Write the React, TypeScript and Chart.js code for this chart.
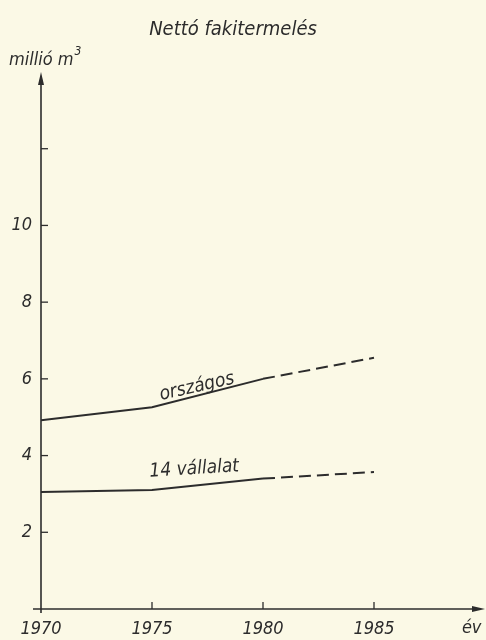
import React, { useEffect, useRef } from "react";
import { Chart, registerables } from "chart.js";

Chart.register(...registerables);

const years = [1970, 1975, 1980, 1985];
const orszagos = [4.92, 5.26, 6.0, 6.55];
const vallalat = [3.05, 3.1, 3.4, 3.57];
const xTickYears = [1970, 1975, 1980, 1985];
const yTickValues = [2, 4, 6, 8, 10, 12];
const yLabelled = [2, 4, 6, 8, 10];

const title = "Nettó fakitermelés";
const yUnit = "millió m";
const xUnit = "év";
const seriesNames = ["országos", "14 vállalat"];

const INK = "#2c2c2c";
const BG = "#fbf9e6";
const FONT = "'Liberation Sans Narrow', 'DejaVu Sans Condensed', sans-serif";

const drawPlugin = {
  id: "handDrawn",
  beforeDraw(chart: any) {
    const { ctx, width, height } = chart;
    ctx.save();
    ctx.fillStyle = BG;
    ctx.fillRect(0, 0, width, height);
    ctx.restore();
  },
  afterDraw(chart: any) {
    const { ctx, chartArea } = chart;
    const xs = chart.scales.x;
    const ys = chart.scales.y;
    const x0 = xs.getPixelForValue(1970);
    const y0 = ys.getPixelForValue(0);
    const yTop = chartArea.top;
    const xRight = chartArea.right;
    ctx.save();
    ctx.strokeStyle = INK;
    ctx.fillStyle = INK;
    ctx.lineWidth = 1.6;
    // y axis
    ctx.beginPath();
    ctx.moveTo(x0, y0 + 4);
    ctx.lineTo(x0, yTop + 6);
    ctx.stroke();
    ctx.beginPath();
    ctx.moveTo(x0, yTop);
    ctx.lineTo(x0 - 3, yTop + 13);
    ctx.lineTo(x0 + 3, yTop + 13);
    ctx.closePath();
    ctx.fill();
    // x axis
    ctx.beginPath();
    ctx.moveTo(x0 - 8, y0);
    ctx.lineTo(xRight - 6, y0);
    ctx.stroke();
    ctx.beginPath();
    ctx.moveTo(xRight, y0);
    ctx.lineTo(xRight - 13, y0 - 3);
    ctx.lineTo(xRight - 13, y0 + 3);
    ctx.closePath();
    ctx.fill();
    // tick marks
    ctx.lineWidth = 1.3;
    yTickValues.forEach((v) => {
      const py = ys.getPixelForValue(v);
      ctx.beginPath();
      ctx.moveTo(x0, py);
      ctx.lineTo(x0 + 7, py);
      ctx.stroke();
    });
    xTickYears.slice(1).forEach((v) => {
      const px = xs.getPixelForValue(v);
      ctx.beginPath();
      ctx.moveTo(px, y0);
      ctx.lineTo(px, y0 - 7);
      ctx.stroke();
    });
    // texts
    ctx.fillStyle = INK;
    ctx.textBaseline = "middle";
    ctx.font = `italic 20px ${FONT}`;
    ctx.textAlign = "center";
    ctx.fillText(title, 233, 30);
    ctx.font = `italic 18px ${FONT}`;
    ctx.textAlign = "left";
    ctx.fillText(yUnit, 9, 60);
    const w = ctx.measureText(yUnit).width;
    ctx.font = `italic 12px ${FONT}`;
    ctx.fillText("3", 9 + w + 1, 52);
    ctx.font = `italic 18px ${FONT}`;
    ctx.textAlign = "center";
    ctx.fillText(xUnit, xs.getPixelForValue(1989.4), 628);
    // series labels
    ctx.font = `italic 19px ${FONT}`;
    ctx.textBaseline = "alphabetic";
    ctx.textAlign = "left";
    ctx.save();
    ctx.translate(xs.getPixelForValue(1975.4), ys.getPixelForValue(5.45));
    ctx.rotate(-0.22);
    ctx.fillText(seriesNames[0], 0, 0);
    ctx.restore();
    ctx.save();
    ctx.translate(xs.getPixelForValue(1974.9), ys.getPixelForValue(3.45));
    ctx.rotate(-0.06);
    ctx.fillText(seriesNames[1], 0, 0);
    ctx.restore();
    ctx.restore();
  },
};

export default function App() {
  const ref = useRef<HTMLCanvasElement | null>(null);
  useEffect(() => {
    document.body.style.margin = "0";
    document.body.style.background = BG;
    const dash = (c: any) => (c.p0.parsed.x >= 1980 ? [12, 6] : undefined);
    const chart = new Chart(ref.current as HTMLCanvasElement, {
      type: "line",
      data: {
        datasets: [
          {
            label: seriesNames[0],
            data: years.map((y, i) => ({ x: y, y: orszagos[i] })),
            borderColor: INK,
            borderWidth: 2,
            pointRadius: 0,
            tension: 0,
            segment: { borderDash: dash },
          },
          {
            label: seriesNames[1],
            data: years.map((y, i) => ({ x: y, y: vallalat[i] })),
            borderColor: INK,
            borderWidth: 2,
            pointRadius: 0,
            tension: 0,
            segment: { borderDash: dash },
          },
        ],
      },
      options: {
        responsive: false,
        animation: false,
        layout: { padding: { top: 72, right: 1, left: 0, bottom: 0 } },
        plugins: { legend: { display: false }, title: { display: false }, tooltip: { enabled: false } },
        scales: {
          x: {
            type: "linear",
            min: 1970,
            max: 1990,
            grid: { display: false, drawTicks: false },
            border: { display: false },
            afterFit: (s: any) => {
              s.height = 31;
            },
            afterBuildTicks: (s: any) => {
              s.ticks = xTickYears.map((v) => ({ value: v }));
            },
            ticks: {
              padding: 10,
              color: INK,
              font: { family: FONT, size: 18, style: "italic" },
              callback: (v: any) => String(v),
              maxRotation: 0,
              autoSkip: false,
            },
          },
          y: {
            type: "linear",
            min: 0,
            max: 14,
            grid: { display: false, drawTicks: false },
            border: { display: false },
            afterFit: (s: any) => {
              s.width = 41;
            },
            afterBuildTicks: (s: any) => {
              s.ticks = yLabelled.map((v) => ({ value: v }));
            },
            ticks: {
              padding: 9,
              color: INK,
              font: { family: FONT, size: 18, style: "italic" },
              callback: (v: any) => String(v),
            },
          },
        },
      },
      plugins: [drawPlugin],
    });
    return () => chart.destroy();
  }, []);
  return (
    <div style={{ width: 486, height: 640, background: BG }}>
      <canvas ref={ref} width={486} height={640} style={{ display: "block" }} />
    </div>
  );
}
